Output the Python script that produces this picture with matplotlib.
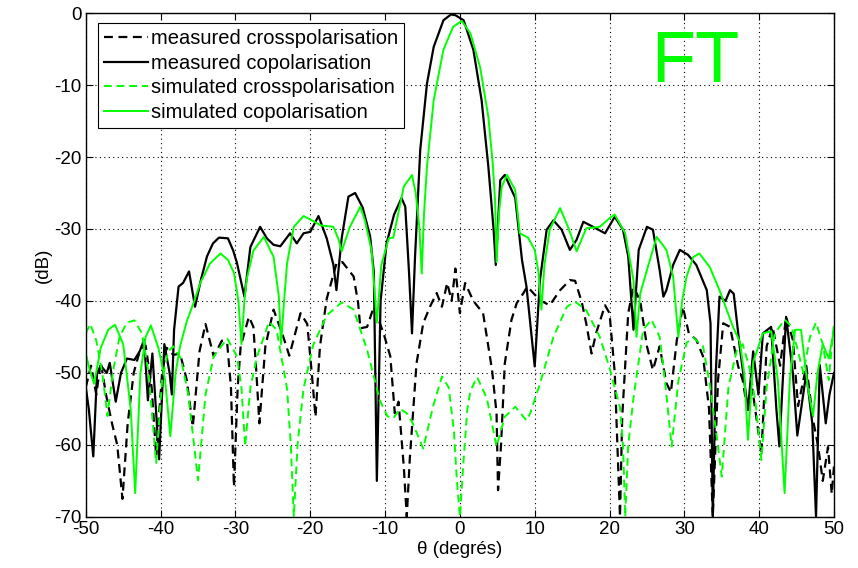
import numpy as np
import matplotlib
matplotlib.use('Agg')
import matplotlib.pyplot as plt

plt.rcParams['font.family'] = ['Liberation Sans', 'DejaVu Sans']
plt.rcParams['axes.unicode_minus'] = False

# (theta in degrees, level in dB)
meas_cross = [(-50, -52), (-49.3, -49), (-48.6, -53), (-48.0, -48.5), (-47.3, -53), (-46.5, -57),
              (-45.8, -60), (-45.1, -67.5), (-44.4, -57), (-43.6, -50), (-42.8, -47), (-42.0, -46.2),
              (-41.2, -52), (-40.6, -61.5), (-39.8, -50), (-39.2, -46.5), (-38.3, -47.5), (-37.4, -47.3),
              (-36.5, -51), (-35.7, -57.5), (-34.8, -47), (-34.0, -43.2), (-32.9, -47.7), (-31.8, -45.5),
              (-31.1, -45.9), (-30.6, -52), (-30.2, -65.8), (-29.7, -52), (-29.3, -46.3), (-28.2, -42.2),
              (-27.6, -43.6), (-27.2, -50), (-26.8, -57), (-26.0, -46.3), (-24.9, -41.2), (-23.6, -45),
              (-22.8, -47.6), (-21.3, -41.7), (-20.4, -43.2), (-19.8, -50), (-19.3, -56.1), (-18.7, -46.3),
              (-17.8, -39.7), (-16.5, -34.8), (-15.7, -34.6), (-14.2, -36.6), (-13.6, -40.3), (-13.3, -43.8),
              (-12.4, -43.6), (-11.5, -40.8), (-10.2, -44.5), (-9.3, -47.7), (-8.7, -55.6), (-8.2, -54),
              (-7.5, -63), (-7.1, -70), (-6.7, -62), (-5.8, -48.7), (-4.9, -43.1), (-4.0, -40.8),
              (-3.1, -38.9), (-2.4, -40.8), (-1.7, -37.5), (-1.1, -40), (-0.6, -35.5), (0.0, -41.7),
              (0.7, -37.5), (1.8, -40), (3.1, -41.7), (3.6, -45), (4.3, -49.6), (4.9, -55.6), (5.1, -66.3),
              (5.5, -60), (6.0, -48.7), (6.9, -42.6), (7.6, -40.3), (8.5, -38.9), (9.0, -38.0), (10.7, -39.9),
              (12.0, -40.6), (13.4, -38.5), (14.7, -37.1), (15.4, -37.2), (16.3, -40.2), (16.9, -43.2),
              (17.6, -47.3), (18.2, -44.5), (19.4, -40.6), (20.0, -41.7), (20.7, -50.0), (21.4, -70),
              (21.7, -56), (22.5, -41.7), (23.2, -38.0), (24.1, -40), (25.0, -46.3), (25.8, -49.6),
              (26.7, -46.3), (27.6, -51.4), (28.2, -52.7), (29.0, -45.4), (29.8, -40.8), (30.6, -44.5),
              (31.6, -45.4), (32.5, -47.7), (33.3, -55), (33.8, -70), (34.5, -51), (35.2, -43.1),
              (36.1, -43.6), (37.2, -49.1), (37.8, -51), (38.5, -55.6), (39.1, -52.3), (40.3, -61.2),
              (41.0, -46.3), (41.8, -43.6), (42.8, -49), (43.6, -42.2), (44.5, -45.4), (45.2, -54.6),
              (46.3, -49), (47.2, -56.5), (47.9, -60.3), (48.5, -65), (49.2, -60.3), (49.7, -66.8), (50, -63)]

meas_co = [(-50, -52), (-49.6, -55), (-49.0, -61.6), (-48.5, -50), (-48.0, -49), (-47.2, -50),
           (-46.8, -48.6), (-46.0, -54), (-45.3, -50), (-44.5, -48), (-43.5, -48.2), (-42.8, -47),
           (-42.2, -45.4), (-41.7, -53.8), (-41.1, -47.3), (-40.2, -62), (-39.5, -46), (-38.8, -50),
           (-38.5, -53), (-38.2, -44), (-37.6, -38), (-37.0, -37.5), (-36.2, -35.9), (-35.4, -40.8),
           (-34.6, -37), (-33.8, -33.8), (-33.0, -32), (-32.2, -31.2), (-31.0, -31.3), (-30.3, -33),
           (-29.8, -34.7), (-28.8, -39.4), (-28.0, -32.5), (-26.7, -29.7), (-25.8, -31.3), (-24.9, -32.2),
           (-24.0, -32.4), (-22.7, -30.6), (-21.8, -32.0), (-20.9, -30.6), (-20.0, -30.4), (-18.9, -28.2),
           (-17.8, -31.3), (-16.9, -35), (-16.5, -38.5), (-15.8, -31.3), (-14.9, -25.5), (-14.0, -25.0),
           (-13.0, -27), (-12.0, -31), (-11.5, -36), (-11.1, -65), (-10.6, -40), (-9.8, -32),
           (-8.8, -28), (-7.8, -25.7), (-7.3, -26.9), (-6.8, -36), (-6.4, -44.5), (-6.0, -34),
           (-5.3, -19), (-4.4, -9.8), (-3.5, -4.7), (-2.2, -1.0), (-1.2, -0.2), (-0.6, -0.3),
           (0.5, -1.0), (1.8, -5.1), (2.9, -12.1), (3.8, -21.3), (4.5, -30), (4.8, -35),
           (5.4, -23.2), (6.0, -22.5), (7.4, -25.7), (8.3, -34.3), (8.9, -38), (9.5, -44),
           (10.0, -49.1), (10.7, -37.1), (11.6, -30.1), (12.5, -28.8), (13.6, -30.1), (14.7, -32.9),
           (15.6, -31.5), (16.5, -29.0), (17.8, -29.7), (19.4, -30.6), (20.7, -28.3), (21.8, -30.1),
           (22.5, -33.8), (23.2, -44), (23.9, -32.9), (25.0, -29.7), (25.8, -30.1), (26.7, -35.7),
           (27.2, -39.4), (27.6, -38.5), (28.5, -35), (29.4, -32.9), (30.5, -33.6), (31.6, -35.0),
           (33.0, -38.5), (33.5, -43.1), (33.8, -70), (34.2, -50), (34.7, -39.4), (35.5, -40),
           (36.1, -38.5), (36.6, -39), (37.4, -46.3), (38.5, -55.1), (39.2, -47), (39.9, -53),
           (40.5, -44.5), (41.6, -43.6), (42.3, -55), (42.7, -60.2), (43.6, -42.2), (44.5, -50),
           (45.1, -58.7), (46.3, -50), (47.1, -57), (47.6, -70), (48.1, -48.9), (48.9, -57),
           (49.4, -53), (50, -50)]

sim_cross = [(-50, -44.5), (-49.4, -43.2), (-48.6, -45.5), (-47.8, -50), (-47.1, -56), (-46.4, -50),
             (-45.5, -45), (-44.5, -43), (-43.5, -42.7), (-42.5, -44.5), (-41.6, -50), (-40.6, -62.5),
             (-39.8, -51), (-39.0, -47), (-38.3, -46.3), (-37.3, -48), (-36.3, -53), (-35.0, -64.9),
             (-34.0, -53), (-32.9, -47.7), (-31.1, -45.2), (-29.8, -47.7), (-29.2, -52), (-28.7, -60.2),
             (-28.0, -52), (-27.1, -47.7), (-25.5, -42.9), (-24.5, -44), (-23.1, -52.2), (-22.6, -60),
             (-22.2, -70), (-21.7, -60), (-20.9, -52.2), (-19.6, -46.1), (-17.8, -42), (-15.8, -40.2),
             (-14.2, -41.2), (-12.4, -46.8), (-10.7, -53.8), (-9.7, -56), (-8.9, -56.3), (-8.0, -55),
             (-7.1, -55.6), (-6.3, -57), (-4.9, -60.5), (-3.6, -54.7), (-2.4, -50.5), (-1.5, -52),
             (-0.8, -58), (-0.4, -65), (0.0, -70), (0.5, -62), (1.0, -55), (1.4, -52.5), (2.3, -50.6),
             (3.6, -53.5), (4.9, -60.2), (6.0, -56.1), (7.4, -54.7), (8.9, -56.6), (9.4, -55.6),
             (10.7, -51.5), (12.5, -45), (14.3, -40.8), (15.4, -40.1), (16.9, -41.3), (18.7, -45),
             (20.0, -49.3), (21.4, -54.8), (21.8, -60), (22.1, -70), (22.5, -60), (23.2, -53.5),
             (24.5, -44), (25.6, -42.6), (26.7, -45), (27.5, -52), (28.3, -60.2), (29.2, -51.1),
             (30.3, -45.8), (31.2, -45.1), (32.5, -46.3), (33.4, -51.6), (34.3, -58.6), (35.0, -64.4),
             (35.9, -51.9), (37.0, -46.9), (37.8, -46), (38.7, -49.3), (39.5, -54), (40.3, -62.1),
             (41.0, -52), (42.1, -44.5), (43.4, -42.6), (44.3, -43.5), (45.2, -47), (45.9, -50),
             (46.8, -45), (47.6, -43), (48.5, -46), (49.3, -51), (50, -43)]

sim_co = [(-50, -47.3), (-49.5, -49.5), (-48.9, -51.5), (-48.0, -46.5), (-47.0, -44), (-46.1, -43.3),
          (-45.0, -46), (-44.0, -55), (-43.4, -66.7), (-42.7, -50), (-42.0, -45), (-41.3, -43.4),
          (-40.3, -46.5), (-39.4, -51), (-38.7, -58.8), (-38.0, -50), (-37.4, -46.3), (-36.5, -42.8),
          (-35.6, -40.3), (-34.7, -37.5), (-33.4, -34.8), (-32.0, -33.4), (-31.0, -34.3), (-30.2, -36.1),
          (-29.6, -40), (-29.2, -46), (-28.8, -40), (-28.5, -37), (-27.6, -33), (-26.2, -31.1),
          (-24.9, -33.9), (-24.2, -39.4), (-23.9, -46), (-23.5, -40), (-23.1, -34.8), (-22.2, -29.7),
          (-20.9, -28.2), (-19.6, -28.9), (-18.6, -29.5), (-16.9, -29.7), (-16.2, -31.5), (-15.8, -33.1),
          (-14.7, -29.7), (-13.3, -26.9), (-12.7, -28.8), (-11.8, -33), (-11.1, -43), (-10.5, -35),
          (-9.5, -31.3), (-8.9, -31.2), (-7.5, -24.1), (-6.4, -22.5), (-5.9, -25), (-5.4, -30),
          (-5.1, -36.2), (-4.8, -28), (-4.4, -21.3), (-3.5, -12.1), (-2.2, -5.1), (-0.9, -1.9),
          (0.25, -1.1), (1.4, -2.8), (2.7, -7.5), (3.8, -14.4), (4.4, -21), (4.7, -26), (4.9, -34.6),
          (5.2, -28), (5.6, -24.1), (6.3, -22.5), (7.4, -24.6), (8.0, -30.6), (9.1, -31.2),
          (10.0, -32.9), (10.5, -36), (10.9, -41.2), (11.3, -35), (12.0, -30.1), (13.4, -27.1),
          (14.6, -30.1), (15.6, -33.1), (16.9, -29.9), (18.7, -29.7), (20.0, -28.5), (20.7, -28.0),
          (22.1, -30.6), (23.2, -37.1), (23.6, -45), (24.1, -39), (25.0, -35.7), (26.3, -31.1),
          (27.6, -32.9), (28.5, -36.6), (29.2, -45), (29.7, -40), (30.3, -36.6), (31.2, -33.9),
          (32.0, -33.4), (33.4, -35.3), (34.7, -38.5), (36.5, -43.6), (37.4, -45.6), (38.0, -50),
          (38.5, -59.3), (39.2, -48.5), (40.5, -44.5), (41.6, -44.2), (42.5, -51), (43.4, -66.7),
          (44.1, -51), (44.8, -44), (45.6, -44), (46.5, -52), (47.2, -56), (47.8, -50), (48.5, -46),
          (49.3, -48), (50, -44)]

GREEN = '#00ff00'

fig = plt.figure(figsize=(8.58, 5.68), dpi=100)
ax = fig.add_axes([0.1, 0.09, 0.872, 0.887])

series = [
    (meas_cross, 'k', (0, (4, 2.5)), 1.6, 'measured crosspolarisation'),
    (meas_co, 'k', '-', 1.6, 'measured copolarisation'),
    (sim_cross, GREEN, (0, (4, 2.5)), 1.4, 'simulated crosspolarisation'),
    (sim_co, GREEN, '-', 1.4, 'simulated copolarisation'),
]
for pts, color, ls, lw, label in series:
    arr = np.array(pts)
    ax.plot(arr[:, 0], arr[:, 1], color=color, linestyle=ls, linewidth=lw, label=label)

ax.set_xlim(-50, 50)
ax.set_ylim(-70, 0)
ax.set_xticks(np.arange(-50, 51, 10))
ax.set_yticks(np.arange(-70, 1, 10))
ax.tick_params(direction='in', labelsize=13.5, length=5, top=True, right=True)
ax.tick_params(axis='x', pad=3)
ax.tick_params(axis='y', pad=3)
ax.grid(True, color='k', linestyle=(0, (1, 3)), linewidth=0.8)
for s in ax.spines.values():
    s.set_linewidth(1.0)

ax.set_xlabel('\u03b8 (degr\u00e9s)', fontsize=13.5, labelpad=2)
ax.set_ylabel('(dB)', fontsize=13.5, labelpad=2)

ax.text(31.4, -7.0, 'FT', color=GREEN, fontsize=52, ha='center', va='center')

leg = ax.legend(loc='upper left', bbox_to_anchor=(0.016, 0.98), fontsize=14.5,
                handlelength=2.2, handletextpad=0.15, borderpad=0.3, labelspacing=0.28,
                borderaxespad=0, fancybox=False, framealpha=1, edgecolor='k')
leg.get_frame().set_linewidth(0.8)

fig.savefig('out.png', dpi=100)
